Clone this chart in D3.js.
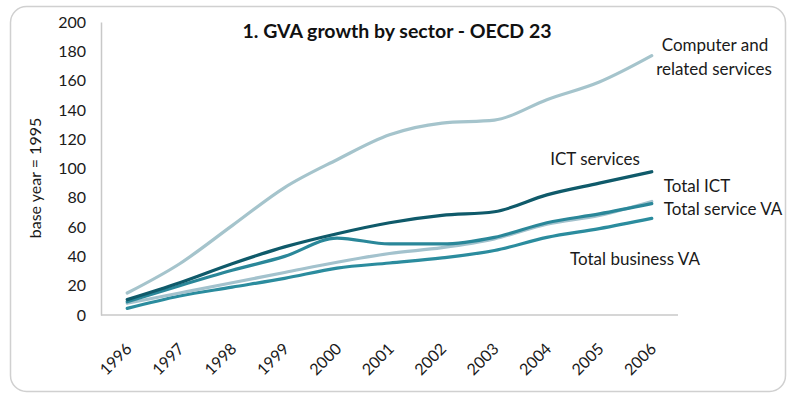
<!DOCTYPE html>
<html><head><meta charset="utf-8">
<script src="https://cdn.jsdelivr.net/npm/d3@7/dist/d3.min.js"></script>
<style>html,body{margin:0;padding:0;background:#fff;}svg{display:block;}</style>
</head><body><svg id="c" width="788" height="396"></svg>
<script>
const years = ["1996","1997","1998","1999","2000","2001","2002","2003","2004","2005","2006"];
const yTicks = [0,20,40,60,80,100,120,140,160,180,200];
const computerServices = [15,35,61,87,106,123,131,133,147,159,177];
const ictServices = [10.5,22,35,46.5,55.5,63,68,70.5,82,90,97.8];
const totalICT = [9,20,30.5,40,52.5,48.5,48.5,53,63,69,76];
const totalServiceVA = [8,15,22,29,36,42,46,52,62,68,77.5];
const totalBusinessVA = [4.5,13,19,25,32,35.5,39,44,53,59,66];
const seriesNames = ["Computer and related services","ICT services","Total ICT","Total service VA","Total business VA"];
const seriesColors = ["#a5c4cc","#0f5a6a","#2a8799","#a3c2cd","#2b8c9e"];

const svg = d3.select("#c");
const font = "Lato, 'Open Sans', sans-serif";
svg.append("rect").attr("x",10.5).attr("y",6.5).attr("width",775).attr("height",385)
  .attr("rx",16).attr("fill","#fff").attr("stroke","#d0d0d0").attr("stroke-width",1.5);

const pLeft=101, pRight=678, pTop=22, pBottom=315;
const x = d3.scalePoint().domain(years).range([pLeft,pRight]).padding(0.5);
const y = d3.scaleLinear().domain([0,200]).range([pBottom,pTop]);

const ya = svg.append("g").attr("transform",`translate(${pLeft},0)`)
  .call(d3.axisLeft(y).tickValues(yTicks).tickSize(0).tickPadding(15));
ya.select(".domain").attr("stroke","#c8c8c8").attr("stroke-width",1.5);
ya.selectAll("text").attr("font-family",font).attr("font-size",16).attr("fill","#1a1a1a");

const xa = svg.append("g").attr("transform",`translate(0,${pBottom})`)
  .call(d3.axisBottom(x).tickSize(0).tickPadding(0));
xa.select(".domain").attr("stroke","#c8c8c8").attr("stroke-width",1.5).attr("d",`M${pLeft},0H${pRight}`);
xa.selectAll("text").attr("font-family",font).attr("font-size",16).attr("fill","#1a1a1a")
  .attr("text-anchor","end").attr("dy","0.35em").attr("y",0)
  .attr("transform","translate(1,31) rotate(-45)");

const all = [computerServices,ictServices,totalICT,totalServiceVA,totalBusinessVA];
const line = d3.line().x((d,i)=>x(years[i])).y(d=>y(d)).curve(d3.curveMonotoneX);
[4,3,2,1,0].forEach(k=>{
  svg.append("path").attr("d",line(all[k])).attr("fill","none")
    .attr("stroke",seriesColors[k]).attr("stroke-width",3.2).attr("stroke-linecap","round");
});

svg.append("text").attr("x",397).attr("y",38).attr("text-anchor","middle")
  .attr("font-family",font).attr("font-weight","bold").attr("font-size",19.5).attr("fill","#111")
  .text("1. GVA growth by sector - OECD 23");

svg.append("text").attr("transform","translate(41,178) rotate(-90)").attr("text-anchor","middle")
  .attr("font-family",font).attr("font-size",16).attr("fill","#1a1a1a").text("base year = 1995");

const labels = [
  {t:"Computer and",x:715,y:51},
  {t:"related services",x:714,y:75},
  {t:"ICT services",x:595,y:164.5},
  {t:"Total ICT",x:697,y:192},
  {t:"Total service VA",x:723,y:215},
  {t:"Total business VA",x:635,y:265}
];
svg.selectAll("text.lbl").data(labels).enter().append("text").attr("class","lbl")
  .attr("x",d=>d.x).attr("y",d=>d.y).attr("text-anchor","middle")
  .attr("font-family",font).attr("font-size",17).attr("fill","#1a1a1a").text(d=>d.t);
</script></body></html>
